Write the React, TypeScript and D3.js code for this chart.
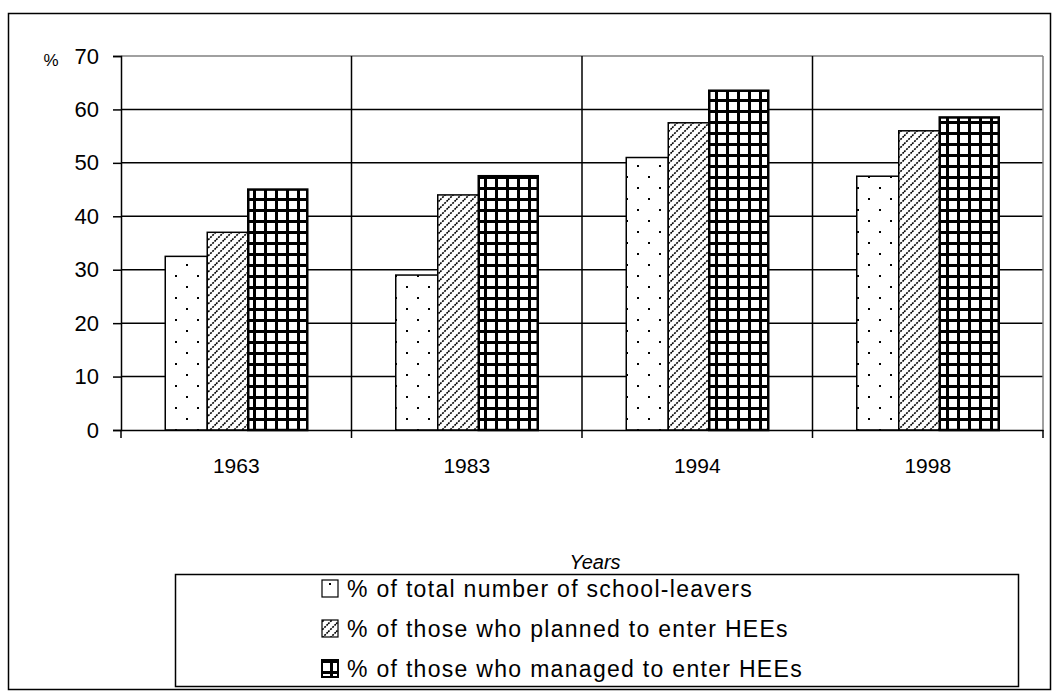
import { useEffect, useRef } from "react";
import * as d3 from "d3";

const years = ["1963", "1983", "1994", "1998"];
const schoolLeavers = [32.5, 29, 51, 47.5];
const planned = [37, 44, 57.5, 56];
const managed = [45, 47.5, 63.5, 58.5];
const seriesNames = [
    "% of total number of school-leavers",
    "% of those who planned to enter HEEs",
    "% of those who managed to enter HEEs",
];
const yTicks = [0, 10, 20, 30, 40, 50, 60, 70];

const FONT = "Arial, 'Liberation Sans', sans-serif";

export default function App() {
    const ref = useRef<SVGSVGElement>(null);

    useEffect(() => {
        const svg = d3.select(ref.current);
        svg.selectAll("*").remove();

        const W = 1059, H = 695;
        const margin = { left: 121, right: 16, top: 56, bottom: 265 };
        svg.attr("width", W).attr("height", H);

        // fill patterns, roughly like the old Excel ones
        const defs = svg.append("defs");
        const dots = defs.append("pattern").attr("id", "dots")
            .attr("patternUnits", "userSpaceOnUse").attr("width", 22).attr("height", 22);
        dots.append("rect").attr("width", 22).attr("height", 22).attr("fill", "#fff");
        dots.append("rect").attr("x", 10).attr("y", 0).attr("width", 2).attr("height", 2).attr("fill", "#000");
        dots.append("rect").attr("x", 21).attr("y", 11).attr("width", 2).attr("height", 2).attr("fill", "#000");
        dots.append("rect").attr("x", 0).attr("y", 11).attr("width", 1).attr("height", 2).attr("fill", "#000");

        const hatch = defs.append("pattern").attr("id", "hatch")
            .attr("patternUnits", "userSpaceOnUse").attr("width", 8).attr("height", 8);
        hatch.append("rect").attr("width", 8).attr("height", 8).attr("fill", "#fff");
        hatch.append("path").attr("d", "M-2,10 L10,-2 M-2,2 L2,-2 M6,10 L10,6")
            .attr("stroke", "#000").attr("stroke-width", 1.6).attr("stroke-dasharray", "2,1");

        const grid = defs.append("pattern").attr("id", "grid")
            .attr("patternUnits", "userSpaceOnUse").attr("width", 11).attr("height", 11);
        grid.append("rect").attr("width", 11).attr("height", 11).attr("fill", "#fff");
        grid.append("rect").attr("x", 0).attr("y", 0).attr("width", 11).attr("height", 3).attr("fill", "#000");
        grid.append("rect").attr("x", 0).attr("y", 0).attr("width", 3).attr("height", 11).attr("fill", "#000");

        // chart border
        svg.append("rect").attr("x", 8.5).attr("y", 13.5).attr("width", 1042).attr("height", 676)
            .attr("fill", "#fff").attr("stroke", "#000").attr("stroke-width", 1.5);

        const innerW = W - margin.left - margin.right;
        const innerH = H - margin.top - margin.bottom;

        const x = d3.scaleBand().domain(years).range([margin.left, margin.left + innerW]);
        const y = d3.scaleLinear().domain([0, 70]).range([margin.top + innerH, margin.top]);

        const g = svg.append("g");

        // horizontal gridlines
        g.selectAll(".hgrid").data(yTicks.slice(1)).join("line")
            .attr("x1", margin.left).attr("x2", margin.left + innerW)
            .attr("y1", d => y(d)).attr("y2", d => y(d))
            .attr("stroke", d => d === 70 ? "#808080" : "#000").attr("stroke-width", 1.5);

        // vertical gridlines between categories
        g.selectAll(".vgrid").data(years.slice(1)).join("line")
            .attr("x1", d => x(d)!).attr("x2", d => x(d)!)
            .attr("y1", y(70)).attr("y2", y(0))
            .attr("stroke", "#000").attr("stroke-width", 1.5);
        g.append("line")
            .attr("x1", margin.left + innerW).attr("x2", margin.left + innerW)
            .attr("y1", y(70)).attr("y2", y(0))
            .attr("stroke", "#808080").attr("stroke-width", 1.5);

        // bars
        const bw = x.bandwidth();
        const widths = [42, 41, 59];
        const startOff = (bw - (widths[0] + widths[1] + widths[2])) / 2;
        const series = [schoolLeavers, planned, managed];
        const fills = ["url(#dots)", "url(#hatch)", "url(#grid)"];
        series.forEach((vals, si) => {
            const off = startOff + widths.slice(0, si).reduce((a, b) => a + b, 0);
            g.selectAll(".bar" + si).data(vals).join("rect")
                .attr("x", (_, i) => x(years[i])! + off)
                .attr("y", d => y(d))
                .attr("width", widths[si])
                .attr("height", d => y(0) - y(d))
                .attr("fill", fills[si])
                .attr("stroke", "#000")
                .attr("stroke-width", si === 2 ? 2.5 : 1.5);
        });

        // axes
        const yAxis = d3.axisLeft(y).tickValues(yTicks).tickSize(8).tickPadding(14);
        const ya = svg.append("g").attr("transform", `translate(${margin.left},0)`).call(yAxis);
        ya.select(".domain").attr("stroke", "#000").attr("stroke-width", 1.5);
        ya.selectAll(".tick line").attr("stroke", "#000").attr("stroke-width", 1.5);
        ya.selectAll("text").attr("font-family", FONT).attr("font-size", 22).attr("fill", "#000");

        const xAxis = d3.axisBottom(x).tickSize(0).tickPadding(28);
        const xa = svg.append("g").attr("transform", `translate(0,${y(0)})`).call(xAxis);
        xa.select(".domain").attr("stroke", "#000").attr("stroke-width", 1.5);
        xa.selectAll("text").attr("font-family", FONT).attr("font-size", 21).attr("fill", "#000");
        xa.selectAll(".btick").data(d3.range(years.length + 1)).join("line")
            .attr("x1", i => margin.left + i * bw).attr("x2", i => margin.left + i * bw)
            .attr("y1", 0).attr("y2", 8).attr("stroke", "#000").attr("stroke-width", 1.5);

        svg.append("text").attr("x", 51).attr("y", 66).text("%")
            .attr("font-family", FONT).attr("font-size", 17).attr("text-anchor", "middle");

        svg.append("text").attr("x", 595).attr("y", 569).text("Years")
            .attr("font-family", FONT).attr("font-size", 20).attr("font-style", "italic")
            .attr("text-anchor", "middle");

        // legend
        const lg = svg.append("g");
        lg.append("rect").attr("x", 175.5).attr("y", 574.5).attr("width", 843).attr("height", 112)
            .attr("fill", "none").attr("stroke", "#000").attr("stroke-width", 1.5);
        seriesNames.forEach((name, i) => {
            const cy = 589 + i * 40;
            lg.append("rect").attr("x", 322).attr("y", cy - 9).attr("width", 16).attr("height", 17)
                .attr("fill", fills[i]).attr("stroke", "#000").attr("stroke-width", i === 2 ? 2 : 1.2);
            lg.append("text").attr("x", 347).attr("y", cy + 8).text(name)
                .attr("font-family", FONT).attr("font-size", 23).attr("letter-spacing", 1.3)
                .attr("fill", "#000");
        });
    }, []);

    return (
        <div>
            <svg ref={ref} style={{ position: "absolute", left: 0, top: 0 }} />
        </div>
    );
}
